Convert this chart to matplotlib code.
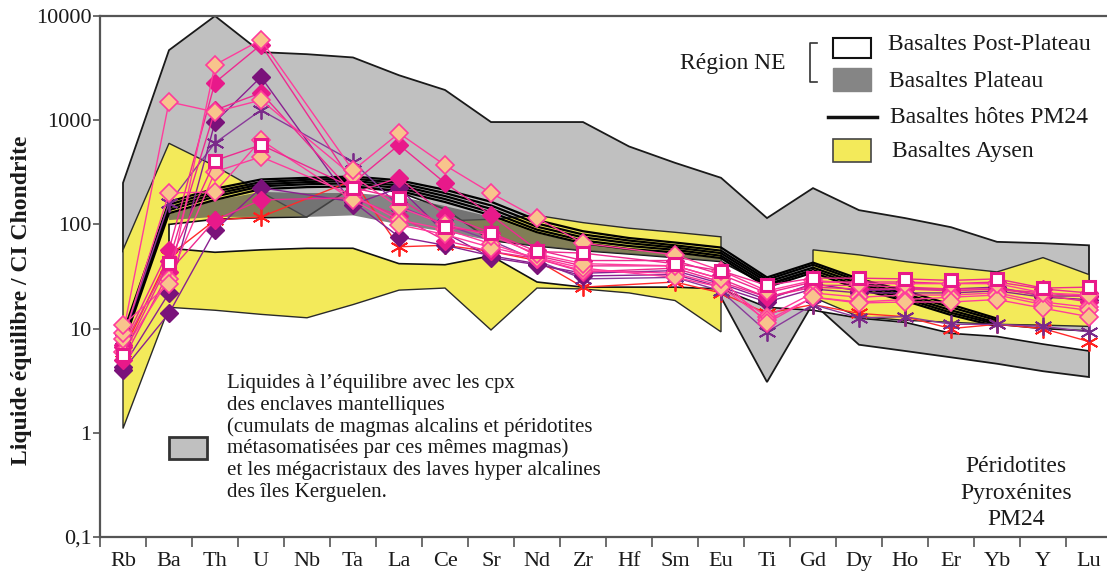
import numpy as np
import matplotlib
matplotlib.use('Agg')
import matplotlib.pyplot as plt
from matplotlib.patches import Rectangle
from matplotlib.lines import Line2D
from matplotlib.ticker import NullLocator, FixedLocator

plt.rcParams['font.family'] = ['Liberation Serif', 'DejaVu Serif']

W, H = 1107, 579
nan = np.nan

elements = ['Rb', 'Ba', 'Th', 'U', 'Nb', 'Ta', 'La', 'Ce', 'Sr', 'Nd', 'Zr', 'Hf',
            'Sm', 'Eu', 'Ti', 'Gd', 'Dy', 'Ho', 'Er', 'Yb', 'Y', 'Lu']
ytick_vals = [0.1, 1, 10, 100, 1000, 10000]
ytick_labels = ['0,1', '1', '10', '100', '1000', '10000']

# --- Fields (Rb .. Lu) ---
kerg_upper = [250, 4700, 10000, 4500, 4300, 4000, 2700, 1950, 960, 960, 960, 560,
              390, 280, 115, 223, 137, 115, 94, 68, 66, 63]
kerg_lower = [55, 60, 60, 60, 60, 60, 50, 45, 40, 35, 30, 28,
              25, 20, 3.07, 17.5, 7.0, 6.1, 5.3, 4.6, 3.9, 3.43]

# Aysen, Rb .. Eu
aysen1_upper = [57, 600, 363, 205, 116, 112, 110, 108, 112, 122, 104, 92, 84, 76]
aysen1_lower = [1.1, 16, 15, 13.7, 12.7, 17, 23.4, 24.5, 9.7, 24.5, 24, 22, 18.6, 9.3]
# Aysen, Gd .. Lu
aysen2_upper = [57, 51, 44, 39, 35, 48, 33]
aysen2_lower = [20, 13, 12, 11.5, 11, 10.8, 10.5]

# Post-plateau, Ba .. Lu
post_upper = [100, 112, 116, 118, 230, 205, 140, 70, 62, 56, 52, 48, 44,
              26, 36, 25, 19, 14, 11, 10, 9.5]
post_lower = [59, 54, 57, 59, 59, 42, 41, 50, 28, 25, 25, 25, 24,
              16, 15, 12.6, 11.5, 9.0, 8.4, 7.1, 6.1]

# Plateau, Ba .. Eu
plat_upper = [125, 170, 205, 200, 200, 185, 150, 118, 82, 66, 58, 53, 47]
plat_lower = [110, 118, 118, 118, 122, 100, 85, 70, 62, 56, 52, 48, 44]

# Host basalts PM24 (Rb .. Yb)
host1 = [9, 165, 220, 270, 280, 288, 265, 215, 165, 110, 86, 74, 67, 60, 31, 43, 30, 23, 17, 12.5]
host2 = [8.5, 155, 207, 255, 268, 275, 250, 200, 152, 102, 80, 70, 63, 56, 29.5, 41, 28.5, 21.5, 16, 12]
host3 = [8, 145, 196, 243, 255, 262, 236, 187, 141, 95, 75, 66, 60, 53, 28, 38.5, 27, 20.5, 15, 11.4]
host4 = [7.5, 137, 185, 232, 243, 248, 223, 175, 131, 89, 70, 62, 57, 50, 26.5, 36.5, 25.5, 19.5, 14.2, 11]
host5 = [7, 128, 172, 218, 228, 232, 210, 164, 122, 84, 66, 58, 54, 47.5, 25, 34.5, 24, 18.5, 13.5, 10.5]

# Equilibrium liquids (samples)
s_peach1 = [10.8, 27, 3400, 5900, nan, 330, 750, 370, 200, 115, 66, nan, 51, 36, 23, 29, 27, 27, 27, 27, 22, 21]
s_pink1 = [7, 57, 2300, 5300, nan, 250, 580, 250, 123, 57, 45, nan, 45, 33, 22, 28, 28, 28, 27, 28, 24, 22]
s_peach2 = [9, 1500, 1200, 1560, nan, 290, 146, 100, 78, 52, 42, nan, 40, 30, 11.3, 20, 17.6, 18, 18, 19, 15.7, 13]
s_pink2 = [6.7, 45, 1250, 1830, nan, 200, 280, 123, 83, 50, 40, nan, 40, 30, 20, 26, 26, 25, 24, 24, 22, 20]
s_purple1 = [4.3, 22, 960, 2600, nan, 155, 224, 83, 48, 41, 34, nan, 36, 27, 19, 27, 23, 24, 24, 25, 20.5, 20.6]
s_pstar = [8, 160, 605, 1250, nan, 400, 150, 100, 70, 45, 30, nan, 31, 23, 9.3, 17, 12.7, 13, 11, 11, 10.5, 9.3]
s_square = [5.6, 43, 410, 580, nan, 225, 178, 94, 83, 55, 53, nan, 42, 36, 26, 30.5, 30.5, 30, 29, 30, 24.5, 25]
s_peach3 = [8, 200, 205, 645, nan, 170, 99, 80, 60, 48, 38, nan, 31, 25, 12, 20, 18, 19, 20, 21, 17, 15]
s_peach4 = [6, 30, 320, 445, nan, 190, 110, 90, 65, 47, 36, nan, 34, 26, 13, 22, 20, 21, 21, 22, 18, 16]
s_purple2 = [4, 14, 88, 225, nan, 165, 76, 63, 50, 42, 32, nan, 33, 25, 18, 24, 22, 22, 22, 23, 20, 19]
s_pink3 = [5, 35, 110, 172, nan, 180, 120, 70, 55, 47, 35, nan, 38, 28, 20, 25, 24, 24, 23, 24, 21, 18]
s_red = [6, 50, 110, 118, nan, 265, 61, 63, 55, 45, 25, nan, 28, 22, 14, 17, 14, 13, 10, 11, 10, 7.5]

fig = plt.figure(figsize=(W / 100, H / 100), dpi=100)
ax = fig.add_axes([100 / W, 42 / H, 1012 / W, 521 / H])
ax.set_yscale('log')
ax.set_ylim(0.1, 10000)
ax.set_xlim(-0.5, 21.5)

x = np.arange(len(elements))


def field(idx0, up, lo, **kw):
    xs = x[idx0:idx0 + len(up)]
    ax.fill(np.r_[xs, xs[::-1]], np.r_[up, lo[::-1]], **kw)


field(0, kerg_upper, kerg_lower, facecolor='#c0c0c0', edgecolor='#1a1a1a', lw=1.3, zorder=1)
field(0, aysen1_upper, aysen1_lower, facecolor='#f3ea5a', edgecolor='#2a2a2a', lw=1.0, zorder=2)
field(1, post_upper, post_lower, facecolor='white', edgecolor='#111111', lw=1.2, zorder=3)
field(15, aysen2_upper, aysen2_lower, facecolor='#f3ea5a', edgecolor='#2a2a2a', lw=1.0, zorder=3.5)
field(1, plat_upper, plat_lower, facecolor='#555555', alpha=0.72, edgecolor='none', zorder=4)

for h in (host1, host2, host3, host4, host5):
    ax.plot(x[:len(h)], h, color='black', lw=1.6, zorder=5)

PINK = '#ee2a90'
styles = [
    (s_red, dict(marker=(6, 2, 0), mec='#ff2020', mfc='#ff2020', color='#ff2a2a', ms=13, mew=1.3)),
    (s_pstar, dict(marker=(6, 2, 0), mec='#7a2a8a', mfc='#7a2a8a', color='#8a3a9a', ms=13, mew=1.3)),
    (s_purple2, dict(marker='D', mfc='#7a127a', mec='#7a127a', color='#8a2090', ms=9)),
    (s_purple1, dict(marker='D', mfc='#7a127a', mec='#7a127a', color='#8a2090', ms=9)),
    (s_pink3, dict(marker='D', mfc='#e8198a', mec='#e8198a', color=PINK, ms=9)),
    (s_pink2, dict(marker='D', mfc='#e8198a', mec='#e8198a', color=PINK, ms=9)),
    (s_pink1, dict(marker='D', mfc='#e8198a', mec='#e8198a', color=PINK, ms=9)),
    (s_peach4, dict(marker='D', mfc='#f8c48c', mec='#ff3c9c', color='#ff3c9c', ms=9, mew=1.2)),
    (s_peach3, dict(marker='D', mfc='#f8c48c', mec='#ff3c9c', color='#ff3c9c', ms=9, mew=1.2)),
    (s_peach2, dict(marker='D', mfc='#f8c48c', mec='#ff3c9c', color='#ff3c9c', ms=9, mew=1.2)),
    (s_peach1, dict(marker='D', mfc='#f8c48c', mec='#ff3c9c', color='#ff3c9c', ms=9, mew=1.2)),
    (s_square, dict(marker='s', mfc='white', mec='#e8198a', color=PINK, ms=8.5, mew=2.2)),
]
for vals, st in styles:
    v = np.array(vals, dtype=float)
    m = ~np.isnan(v)
    ax.plot(x[m], v[m], lw=1.0, zorder=6, **st)

# axes styling
for side in ('left', 'top', 'bottom'):
    ax.spines[side].set_color('#555555')
    ax.spines[side].set_linewidth(1.6)
ax.spines['right'].set_visible(False)

ax.yaxis.set_major_locator(FixedLocator(ytick_vals))
ax.set_yticklabels(ytick_labels)
ax.yaxis.set_minor_locator(NullLocator())
ax.tick_params(axis='y', which='major', direction='out', length=5, width=1.2,
               color='#555555', labelsize=16, pad=1, labelcolor='#1a1a1a')

ax.set_xticks(np.arange(-0.5, 22, 1))
ax.set_xticklabels([])
ax.set_xticks(x, minor=True)
ax.set_xticklabels(elements, minor=True)
ax.tick_params(axis='x', which='major', direction='out', length=7, width=1.2, color='#555555')
ax.tick_params(axis='x', which='minor', length=0, labelsize=16, pad=11, labelcolor='#1a1a1a')

fig.text(22 / W, 1 - 300 / H, 'Liquide équilibre / CI Chondrite', rotation=90,
         ha='center', va='center', fontsize=17, fontweight='bold', color='#1a1a1a')


def fx(px):
    return px / W


def fy(py):
    return 1 - py / H


def rect(x0, y0, x1, y1, **kw):
    fig.add_artist(Rectangle((fx(x0), fy(y1)), (x1 - x0) / W, (y1 - y0) / H,
                             transform=fig.transFigure, **kw))


# legend
rect(833, 38, 871, 58, facecolor='white', edgecolor='#111111', lw=1.5)
rect(833, 68, 871, 91, facecolor='#858585', edgecolor='#858585', lw=1)
fig.add_artist(Line2D([fx(828), fx(877)], [fy(117), fy(117)], color='#111111', lw=2.5,
                      transform=fig.transFigure))
rect(833, 139, 871, 162, facecolor='#f3ea5a', edgecolor='#444444', lw=1.2)
fig.add_artist(Line2D([fx(817), fx(810), fx(810), fx(817)], [fy(43), fy(43), fy(82), fy(82)],
                      color='#333333', lw=1.2, transform=fig.transFigure))
fig.text(fx(786), fy(64), 'Région NE', ha='right', va='center', fontsize=17, color='#1a1a1a')
leg_txt = ['Basaltes Post-Plateau', 'Basaltes Plateau', 'Basaltes hôtes PM24', 'Basaltes Aysen']
leg_y = [45, 81, 117, 152]
leg_x = [888, 889, 890, 892]
for t, yy, xx in zip(leg_txt, leg_y, leg_x):
    fig.text(fx(xx), fy(yy), t, ha='left', va='center', fontsize=17, color='#1a1a1a')

# text block
rect(169, 437, 207, 459, facecolor='#c0c0c0', edgecolor='#333333', lw=2)
block = ["Liquides à l\u2019équilibre avec les cpx",
         "des enclaves mantelliques",
         "(cumulats de magmas alcalins et péridotites",
         "métasomatisées par ces mêmes magmas)",
         "et les mégacristaux des laves hyper alcalines",
         "des îles Kerguelen."]
for i, t in enumerate(block):
    fig.text(fx(227), fy(388 + 21.8 * i), t, ha='left', va='baseline', fontsize=15, color='#1a1a1a')

for i, t in enumerate(['Péridotites', 'Pyroxénites', 'PM24']):
    fig.text(fx(1016), fy(472 + 26.7 * i), t, ha='center', va='baseline', fontsize=17, color='#1a1a1a')

fig.savefig('out.png', dpi=100)
